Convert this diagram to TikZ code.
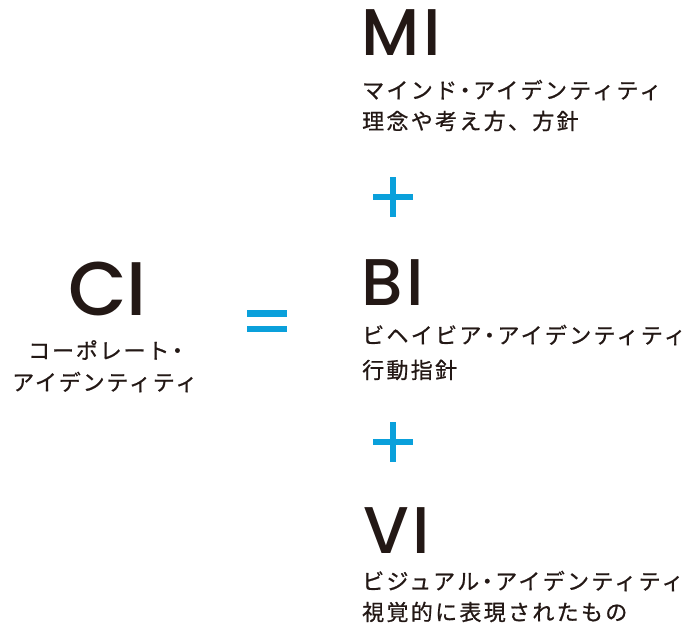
\documentclass[tikz,border=0pt]{standalone}
\usepackage{fontspec}
\newfontfamily\latinbig[LetterSpace=6]{Poppins Medium}
\newfontfamily\latinci[LetterSpace=0]{Poppins Medium}
\newfontfamily\jpr[LetterSpace=10.5,FakeBold=0.8]{Noto Sans CJK JP}
\newfontfamily\jpl[LetterSpace=8.4,FakeBold=0.8]{Noto Sans CJK JP}
\newcommand{\nkg}{\kern-3pt ・\kern-3pt }
\definecolor{ink}{HTML}{231815}
\definecolor{cblue}{HTML}{0AA0DB}
\begin{document}
\begin{tikzpicture}[x=1pt,y=-1pt,
  bigtext/.style={inner sep=0pt,anchor=west,text=ink,font=\latinbig\fontsize{66}{66}\selectfont},
  cibig/.style={inner sep=0pt,anchor=west,text=ink,font=\latinci\fontsize{76}{76}\selectfont},
  jptext/.style={inner sep=0pt,anchor=west,text=ink,font=\jpr\fontsize{22}{22}\selectfont},
  jpleft/.style={inner sep=0pt,anchor=west,text=ink,font=\jpl\fontsize{22}{22}\selectfont},
  bar/.style={fill=cblue,draw=none}]
\useasboundingbox (0,0) rectangle (687,634);
% CI
\node[cibig] (ci) at (68,288.5) {CI};
\node[jpleft] (ci1) at (28,350) {コーポレート\nkg};
\node[jpleft] (ci2) at (12,382) {アイデンティティ};
% equals
\fill[bar] (247,310) rectangle (287,316.5);
\fill[bar] (247,325.5) rectangle (287,332);
% MI
\node[bigtext] (mi) at (361,32.5) {MI};
\node[jptext] (mi1) at (362,90) {マインド\nkg アイデンティティ};
\node[jptext] (mi2) at (362,121) {理念や考え方、方針};
% plus 1
\fill[bar] (373,194) rectangle (413,200);
\fill[bar] (390,177) rectangle (396,217);
% BI
\node[bigtext] (bi) at (361,282.5) {BI};
\node[jptext] (bi1) at (362,335) {ビヘイビア\nkg アイデンティティ};
\node[jptext] (bi2) at (362,370) {行動指針};
% plus 2
\fill[bar] (373,439) rectangle (413,445);
\fill[bar] (390,422) rectangle (396,462);
% VI
\node[bigtext] (vi) at (363,531) {VI};
\node[jptext] (vi1) at (362,581) {ビジュアル\nkg アイデンティティ};
\node[jptext] (vi2) at (362,612) {視覚的に表現されたもの};
\end{tikzpicture}
\end{document}
